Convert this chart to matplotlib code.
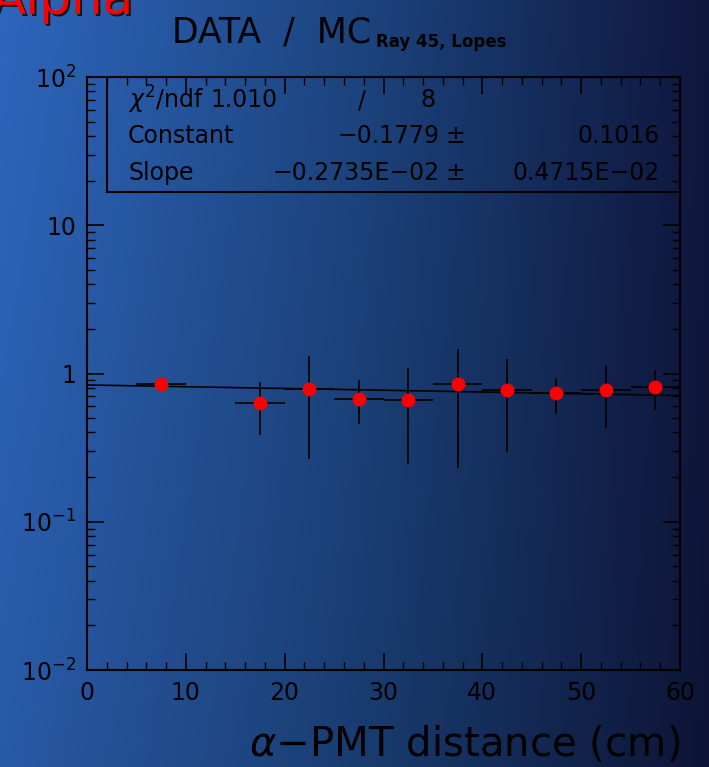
import numpy as np
import matplotlib.pyplot as plt
from matplotlib.ticker import FixedLocator, MultipleLocator, LogLocator, NullFormatter

# bin centres (cm), DATA/MC ratio and errors
distance = [7.5, 17.5, 22.5, 27.5, 32.5, 37.5, 42.5, 47.5, 52.5, 57.5]
ratio = [0.843, 0.63, 0.784, 0.678, 0.665, 0.852, 0.776, 0.737, 0.776, 0.813]
ratio_err = [0.02, 0.245, 0.52, 0.22, 0.42, 0.62, 0.48, 0.2, 0.35, 0.25]
bin_half = 2.5

# exponential fit parameters
fit_const = -0.1779
fit_const_err = 0.1016
fit_slope = -0.2735e-02
fit_slope_err = 0.4715e-02
chi2 = 1.010
ndf = 8

W, H = 709, 767
fig = plt.figure(figsize=(W / 100, H / 100), dpi=100)

# blurry blue slide background
bg = fig.add_axes([0, 0, 1, 1])
xx, yy = np.meshgrid(np.linspace(0, 1, 300), np.linspace(0, 1, 320))
left = np.array([0.18, 0.40, 0.74])
mid = np.array([0.11, 0.27, 0.50])
right = np.array([0.06, 0.09, 0.24])
t = xx[..., None]
col = np.where(t < 0.5, left + (mid - left) * (t / 0.5), mid + (right - mid) * ((t - 0.5) / 0.5))
col = col * (1 - 0.12 * yy[..., None])
bg.imshow(np.clip(col, 0, 1), extent=[0, W, H, 0], aspect='auto', interpolation='bicubic')
bg.set_xlim(0, W)
bg.set_ylim(H, 0)
bg.axis('off')

ax = fig.add_axes([87 / W, 1 - 670 / H, 593 / W, 593 / H])
ax.patch.set_alpha(0)
ax.set_yscale('log')
ax.set_xlim(0, 60)
ax.set_ylim(1e-2, 1e2)

ax.errorbar(distance, ratio, yerr=ratio_err, xerr=bin_half, fmt='o', color='red',
            ecolor='black', elinewidth=1.2, markersize=9, capsize=0, zorder=3)

xf = np.linspace(0, 60, 200)
ax.plot(xf, np.exp(fit_const + fit_slope * xf), color='black', lw=1.2, zorder=2)

for s in ax.spines.values():
    s.set_linewidth(1.5)
ax.xaxis.set_major_locator(MultipleLocator(10))
ax.xaxis.set_minor_locator(MultipleLocator(2))
ax.yaxis.set_major_locator(FixedLocator([1e-2, 1e-1, 1, 10, 1e2]))
ax.yaxis.set_minor_locator(LogLocator(base=10, subs=np.arange(2, 10)))
ax.yaxis.set_minor_formatter(NullFormatter())
ax.set_yticklabels(['$10^{-2}$', '$10^{-1}$', '1', '10', '$10^{2}$'])
ax.tick_params(which='both', direction='in', top=True, right=True, colors='black',
               labelsize=17)
ax.tick_params(which='major', length=12, width=1.2, pad=8)
ax.tick_params(which='minor', length=6, width=1.0)

ax.set_xlabel(r'$\alpha$$-$PMT distance (cm)', fontsize=29, loc='right', labelpad=14)

# stats box
bx0 = 20 / 593
by0 = (670 - 192) / 593
ax.add_patch(plt.Rectangle((bx0, by0), 1 - bx0, 1 - by0, transform=ax.transAxes,
                           fill=False, edgecolor='black', lw=1.5, zorder=4))
fs = 17
bg.text(128, 100, r'$\chi^2$/ndf', fontsize=fs, va='center', ha='left')
bg.text(278, 100, f'{chi2:.3f}', fontsize=fs, va='center', ha='right')
bg.text(362, 100, '/', fontsize=fs, va='center', ha='center')
bg.text(435, 100, f'{ndf}', fontsize=fs, va='center', ha='right')
bg.text(128, 136, 'Constant', fontsize=fs, va='center', ha='left')
bg.text(440, 136, '\u22120.1779', fontsize=fs, va='center', ha='right')
bg.text(455, 136, '\u00b1', fontsize=fs, va='center', ha='center')
bg.text(660, 136, '0.1016', fontsize=fs, va='center', ha='right')
bg.text(128, 173, 'Slope', fontsize=fs, va='center', ha='left')
bg.text(440, 173, '\u22120.2735E\u221202', fontsize=fs, va='center', ha='right')
bg.text(455, 173, '\u00b1', fontsize=fs, va='center', ha='center')
bg.text(660, 173, '0.4715E\u221202', fontsize=fs, va='center', ha='right')

# titles
bg.text(172, 42, 'DATA  /  MC', fontsize=25, va='baseline', ha='left')
bg.text(376, 47, 'Ray 45, Lopes', fontsize=12, fontweight='bold', va='baseline', ha='left')
bg.text(-6, 16, 'Alpha', fontsize=36, color='#151515', va='baseline', ha='left')
bg.text(-8, 14, 'Alpha', fontsize=36, color='red', va='baseline', ha='left')

fig.savefig('out.png', dpi=100)
